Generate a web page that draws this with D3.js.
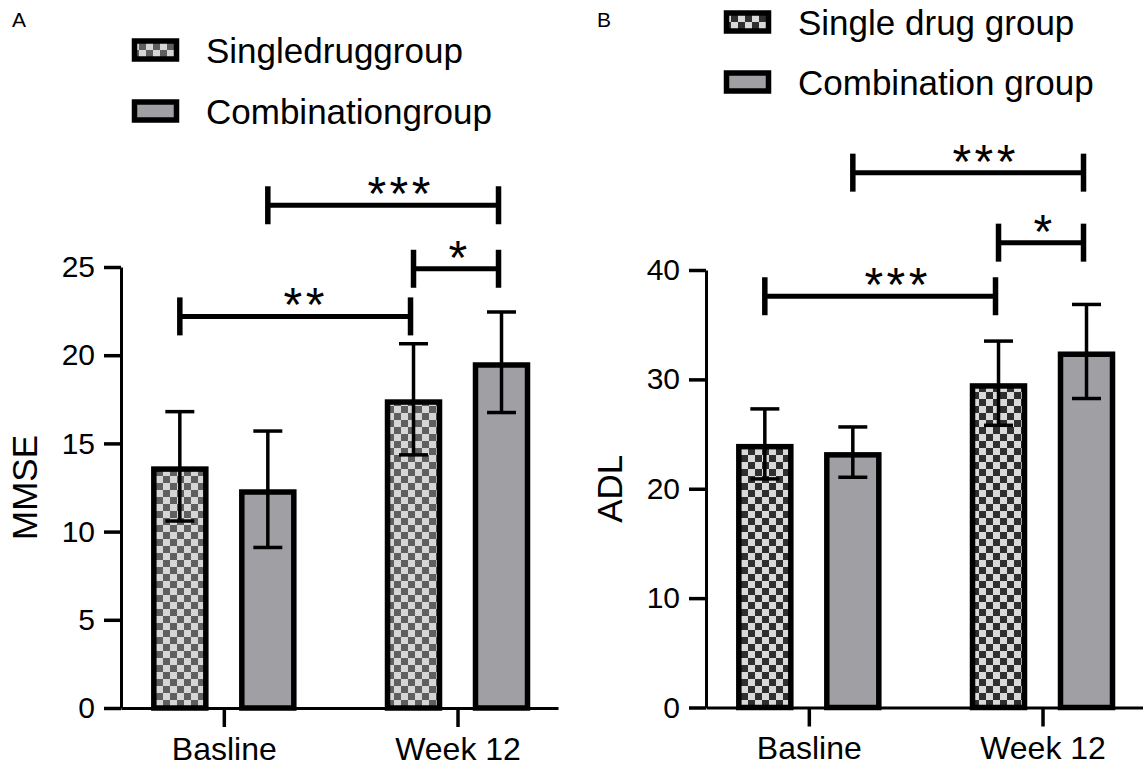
<!DOCTYPE html>
<html>
<head>
<meta charset="utf-8">
<script src="https://cdn.jsdelivr.net/npm/d3@7"></script>
<style>
  body { margin: 0; background: #fff; }
  svg { display: block; font-family: Arial, "Liberation Sans", sans-serif; }
</style>
</head>
<body>
<script>
// categories and series
const groups = ["Basline", "Week 12"];
const legendA = ["Singledruggroup", "Combinationgroup"];
const legendB = ["Single drug group", "Combination group"];

// MMSE (panel A): means and error half-lengths
const mmseSingle = [13.7, 17.5];
const mmseSingleErr = [3.1, 3.15];
const mmseCombo = [12.4, 19.6];
const mmseComboErr = [3.3, 2.85];
const mmseTicks = [0, 5, 10, 15, 20, 25];

// ADL (panel B)
const adlSingle = [24.1, 29.65];
const adlSingleErr = [3.2, 3.85];
const adlCombo = [23.35, 32.55];
const adlComboErr = [2.3, 4.3];
const adlTicks = [0, 10, 20, 30, 40];

// significance brackets: bar index (0 single-base, 1 combo-base, 2 single-wk12, 3 combo-wk12)
const mmseSig = [
    { from: 0, to: 2, y: 22.2, label: "**" },
    { from: 2, to: 3, y: 24.9, label: "*" },
    { from: 1, to: 3, y: 28.5, label: "***" }
];
const adlSig = [
    { from: 0, to: 2, y: 37.6, label: "***" },
    { from: 2, to: 3, y: 42.5, label: "*" },
    { from: 1, to: 3, y: 48.9, label: "***" }
];

const svg = d3.select("body").append("svg")
    .attr("width", 1143)
    .attr("height", 769);

// checkerboard fills
const defs = svg.append("defs");
function checker(id, dark, light) {
    const pat = defs.append("pattern")
        .attr("id", id)
        .attr("patternUnits", "userSpaceOnUse")
        .attr("width", 14)
        .attr("height", 14);
    pat.append("rect").attr("width", 14).attr("height", 14).attr("fill", light);
    pat.append("rect").attr("width", 7).attr("height", 7).attr("fill", dark);
    pat.append("rect").attr("x", 7).attr("y", 7).attr("width", 7).attr("height", 7).attr("fill", dark);
}
checker("checkA", "#5f5f5f", "#d6d6d6");
checker("checkB", "#2f2f2f", "#d9d9d9");

const grey = "#a09fa4";
const barStroke = 5.5;

const panels = [
    {
        letter: "A", ox: 121, yRange: [708, 267], yMax: 25, ticks: mmseTicks, title: "MMSE",
        names: legendA, single: mmseSingle, singleErr: mmseSingleErr, combo: mmseCombo, comboErr: mmseComboErr,
        sig: mmseSig, pattern: "url(#checkA)", legendX: 11, legendY: [50, 111]
    },
    {
        letter: "B", ox: 706, yRange: [707.5, 270], yMax: 40, ticks: adlTicks, title: "ADL",
        names: legendB, single: adlSingle, singleErr: adlSingleErr, combo: adlCombo, comboErr: adlComboErr,
        sig: adlSig, pattern: "url(#checkB)", legendX: 18, legendY: [22, 82]
    }
];

panels.forEach(p => {
    const g = svg.append("g").attr("transform", `translate(${p.ox},0)`);

    const x = d3.scaleLinear().domain([-0.44, 1.43]).range([0, 437]);
    const inner = d3.scaleBand().domain([0, 1]).range([-70, 70]).paddingInner(0.409);
    const y = d3.scaleLinear().domain([0, p.yMax]).range(p.yRange);
    const fills = [p.pattern, grey];

    const bars = [];
    groups.forEach((grp, gi) => {
        bars.push({ gi, si: 0, mean: p.single[gi], err: p.singleErr[gi] });
        bars.push({ gi, si: 1, mean: p.combo[gi], err: p.comboErr[gi] });
    });
    const cx = d => x(d.gi) + inner(d.si) + inner.bandwidth() / 2;

    // bars (outline kept inside the bar top, like the original)
    g.selectAll(".bar")
        .data(bars)
        .enter()
        .append("rect")
        .attr("class", "bar")
        .attr("x", d => x(d.gi) + inner(d.si))
        .attr("y", d => y(d.mean) + barStroke / 2)
        .attr("width", inner.bandwidth())
        .attr("height", d => y(0) - y(d.mean) - barStroke / 2)
        .attr("fill", d => fills[d.si])
        .attr("stroke", "#000")
        .attr("stroke-width", barStroke);

    // axes
    const yAxis = g.append("g")
        .call(d3.axisLeft(y).tickValues(p.ticks).tickSize(17).tickSizeOuter(0).tickPadding(9));
    const xAxis = g.append("g")
        .attr("transform", `translate(0,${y(0)})`)
        .call(d3.axisBottom(x).tickValues([0, 1]).tickFormat(i => groups[i])
            .tickSize(19).tickSizeOuter(0).tickPadding(10));
    [yAxis, xAxis].forEach(ax => {
        ax.select(".domain").attr("stroke-width", 3);
        ax.selectAll(".tick line").attr("stroke-width", 3.5);
        ax.selectAll("text").attr("fill", "#000").style("font-family", "Arial, 'Liberation Sans', sans-serif");
    });
    yAxis.selectAll("text").attr("font-size", 30);
    xAxis.selectAll("text").attr("font-size", 32);

    // axis title
    g.append("text")
        .attr("transform", `translate(-84,${(p.yRange[0] + p.yRange[1]) / 2}) rotate(-90)`)
        .attr("text-anchor", "middle")
        .attr("font-size", 35)
        .text(p.title);

    // error bars
    const eb = g.selectAll(".err")
        .data(bars)
        .enter()
        .append("g")
        .attr("class", "err")
        .attr("stroke", "#000")
        .attr("stroke-width", 3.5);
    eb.append("line")
        .attr("x1", cx).attr("x2", cx)
        .attr("y1", d => y(d.mean - d.err))
        .attr("y2", d => y(d.mean + d.err));
    eb.append("line")
        .attr("x1", d => cx(d) - 14.5).attr("x2", d => cx(d) + 14.5)
        .attr("y1", d => y(d.mean + d.err)).attr("y2", d => y(d.mean + d.err));
    eb.append("line")
        .attr("x1", d => cx(d) - 14.5).attr("x2", d => cx(d) + 14.5)
        .attr("y1", d => y(d.mean - d.err)).attr("y2", d => y(d.mean - d.err));

    // significance brackets
    const sg = g.selectAll(".sig")
        .data(p.sig)
        .enter()
        .append("g")
        .attr("class", "sig");
    sg.append("line")
        .attr("x1", d => cx(bars[d.from])).attr("x2", d => cx(bars[d.to]) - 3)
        .attr("y1", d => y(d.y)).attr("y2", d => y(d.y))
        .attr("stroke", "#000").attr("stroke-width", 5);
    ["from", "to"].forEach((end, k) => {
        sg.append("line")
            .attr("x1", d => cx(bars[d[end]]) - 3 * k).attr("x2", d => cx(bars[d[end]]) - 3 * k)
            .attr("y1", d => y(d.y) - 19).attr("y2", d => y(d.y) + 19)
            .attr("stroke", "#000").attr("stroke-width", 5.5);
    });
    sg.append("text")
        .attr("x", d => (cx(bars[d.from]) + cx(bars[d.to])) / 2 + (d.label.length - 1) * 7 + 2)
        .attr("y", d => y(d.y) + 5)
        .attr("text-anchor", "middle")
        .attr("font-size", 48)
        .attr("letter-spacing", 3.5)
        .text(d => d.label);

    // legend
    const lg = g.selectAll(".leg")
        .data(p.names)
        .enter()
        .append("g")
        .attr("class", "leg")
        .attr("transform", (d, i) => `translate(${p.legendX},${p.legendY[i]})`);
    lg.append("rect")
        .attr("x", 2.5).attr("y", -9)
        .attr("width", 42).attr("height", 18)
        .attr("fill", (d, i) => fills[i])
        .attr("stroke", "#000").attr("stroke-width", 5.5);
    lg.append("text")
        .attr("x", 74)
        .attr("y", 12.5)
        .attr("font-size", 35)
        .text(d => d);

    // panel letter
    g.append("text")
        .attr("x", -109)
        .attr("y", 27)
        .attr("font-size", 21)
        .text(p.letter);
});
</script>
</body>
</html>
